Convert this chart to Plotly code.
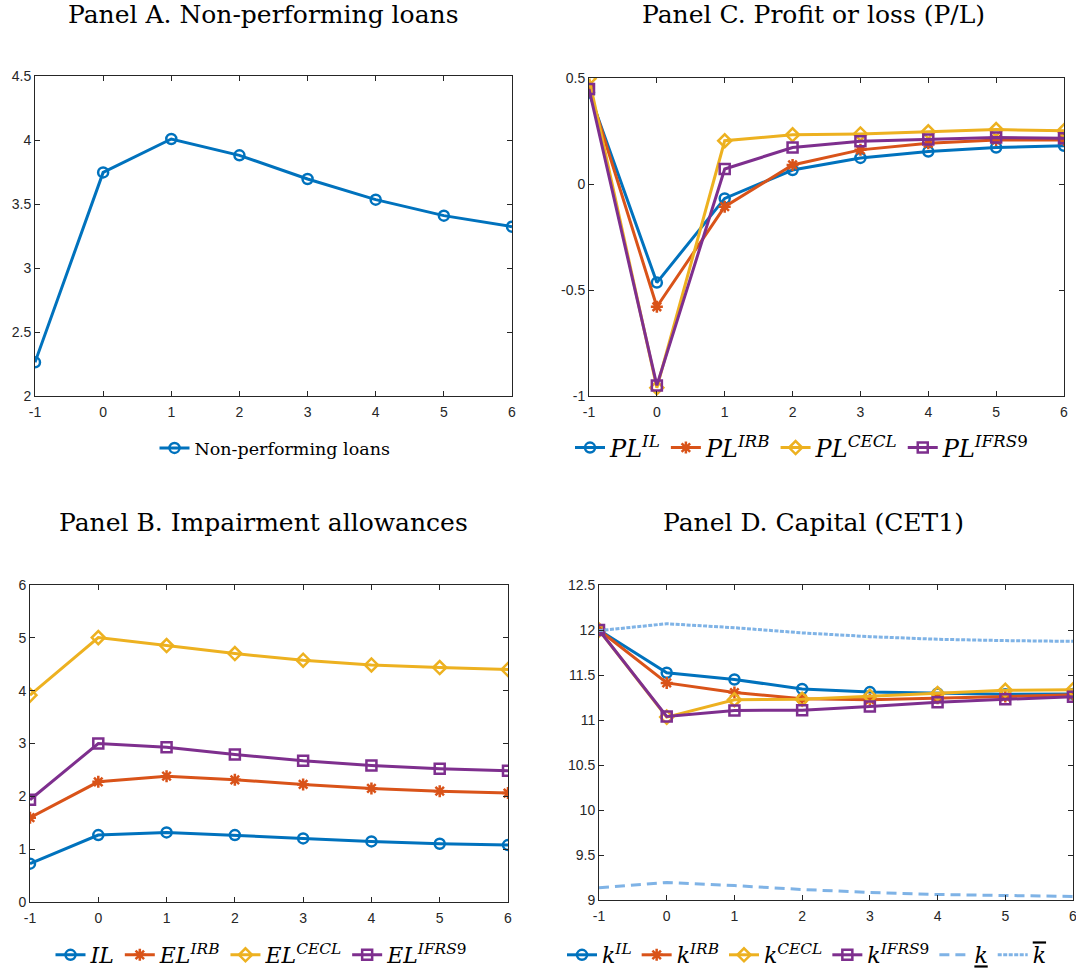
import plotly.graph_objects as go

# ---------------- data ----------------
periods = [-1, 0, 1, 2, 3, 4, 5, 6]
tick_vals_x = [-1, 0, 1, 2, 3, 4, 5, 6]
tick_text_x = ["-1", "0", "1", "2", "3", "4", "5", "6"]

# Panel A
npl = [2.263, 3.747, 4.008, 3.880, 3.695, 3.534, 3.409, 3.323]

# Panel B
il = [0.725, 1.267, 1.317, 1.267, 1.204, 1.147, 1.103, 1.078]
el_irb = [1.595, 2.275, 2.382, 2.313, 2.225, 2.149, 2.098, 2.061]
el_cecl = [3.914, 5.004, 4.853, 4.702, 4.576, 4.487, 4.437, 4.399]
el_ifrs9 = [1.935, 3.000, 2.931, 2.792, 2.672, 2.584, 2.521, 2.483]

# Panel C
pl_il = [0.432, -0.465, -0.068, 0.066, 0.123, 0.153, 0.172, 0.180]
pl_irb = [0.445, -0.579, -0.107, 0.090, 0.161, 0.192, 0.208, 0.208]
pl_cecl = [0.497, -0.961, 0.204, 0.232, 0.236, 0.246, 0.257, 0.251]
pl_ifrs9 = [0.448, -0.950, 0.071, 0.172, 0.202, 0.210, 0.219, 0.216]

# Panel D
k_il = [12.0, 11.525, 11.450, 11.345, 11.310, 11.295, 11.285, 11.290]
k_irb = [12.0, 11.412, 11.305, 11.235, 11.224, 11.242, 11.260, 11.280]
k_cecl = [12.0, 11.032, 11.225, 11.231, 11.265, 11.294, 11.330, 11.335]
k_ifrs9 = [12.0, 11.040, 11.106, 11.109, 11.150, 11.198, 11.230, 11.257]
k_low = [9.136, 9.195, 9.160, 9.117, 9.083, 9.061, 9.050, 9.040]
k_high = [11.993, 12.070, 12.025, 11.968, 11.926, 11.897, 11.882, 11.874]

yA_ticks = [2, 2.5, 3, 3.5, 4, 4.5]
yA_text = ["2", "2.5", "3", "3.5", "4", "4.5"]
yB_ticks = [0, 1, 2, 3, 4, 5, 6]
yB_text = ["0", "1", "2", "3", "4", "5", "6"]
yC_ticks = [-1, -0.5, 0, 0.5]
yC_text = ["-1", "-0.5", "0", "0.5"]
yD_ticks = [9, 9.5, 10, 10.5, 11, 11.5, 12, 12.5]
yD_text = ["9", "9.5", "10", "10.5", "11", "11.5", "12", "12.5"]

titles = ["Panel A. Non-performing loans", "Panel C. Profit or loss (P/L)",
          "Panel B. Impairment allowances", "Panel D. Capital (CET1)"]

# ---------------- style ----------------
BLUE = "#0072BD"
ORANGE = "#D95319"
YELLOW = "#EDB120"
PURPLE = "#7E2F8E"
LIGHT = "#7FB3E6"
AX = "#262626"
SERIF = "DejaVu Serif, Liberation Serif, serif"
SANS = "Liberation Sans, Arial, sans-serif"
W = 1076
H = 969


def mk(sym, col):
    return dict(symbol=sym, size=10, color=col, line=dict(width=2.5, color=col))


def ml(x, y, name, col, sym, xa, ya, leg):
    return go.Scatter(x=x, y=y, name=name, mode="lines+markers",
                      line=dict(color=col, width=3), marker=mk(sym, col),
                      xaxis=xa, yaxis=ya, legend=leg)


fig = go.Figure()

# Panel A
fig.add_trace(ml(periods, npl, "Non-performing loans", BLUE, "circle-open", "x", "y", "legend"))

# Panel C
fig.add_trace(ml(periods, pl_il, "<i>PL</i><sup><i>IL</i></sup>", BLUE, "circle-open", "x2", "y2", "legend2"))
fig.add_trace(ml(periods, pl_irb, "<i>PL</i><sup><i>IRB</i></sup>", ORANGE, "asterisk-open", "x2", "y2", "legend2"))
fig.add_trace(ml(periods, pl_cecl, "<i>PL</i><sup><i>CECL</i></sup>", YELLOW, "diamond-open", "x2", "y2", "legend2"))
fig.add_trace(ml(periods, pl_ifrs9, "<i>PL</i><sup><i>IFRS</i>9</sup>", PURPLE, "square-open", "x2", "y2", "legend2"))

# Panel B
fig.add_trace(ml(periods, il, "<i>IL</i>", BLUE, "circle-open", "x3", "y3", "legend3"))
fig.add_trace(ml(periods, el_irb, "<i>EL</i><sup><i>IRB</i></sup>", ORANGE, "asterisk-open", "x3", "y3", "legend3"))
fig.add_trace(ml(periods, el_cecl, "<i>EL</i><sup><i>CECL</i></sup>", YELLOW, "diamond-open", "x3", "y3", "legend3"))
fig.add_trace(ml(periods, el_ifrs9, "<i>EL</i><sup><i>IFRS</i>9</sup>", PURPLE, "square-open", "x3", "y3", "legend3"))

# Panel D
fig.add_trace(ml(periods, k_il, "<i>k</i><sup><i>IL</i></sup>", BLUE, "circle-open", "x4", "y4", "legend4"))
fig.add_trace(ml(periods, k_irb, "<i>k</i><sup><i>IRB</i></sup>", ORANGE, "asterisk-open", "x4", "y4", "legend4"))
fig.add_trace(ml(periods, k_cecl, "<i>k</i><sup><i>CECL</i></sup>", YELLOW, "diamond-open", "x4", "y4", "legend4"))
fig.add_trace(ml(periods, k_ifrs9, "<i>k</i><sup><i>IFRS</i>9</sup>", PURPLE, "square-open", "x4", "y4", "legend4"))
fig.add_trace(go.Scatter(x=periods, y=k_low, name="<u><i>k</i></u>", mode="lines",
                         line=dict(color=LIGHT, width=3, dash="10px,6px"),
                         xaxis="x4", yaxis="y4", legend="legend4"))
fig.add_trace(go.Scatter(x=periods, y=k_high, name="<span style='text-decoration:overline'><i>k</i></span>",
                         mode="lines", line=dict(color=LIGHT, width=3, dash="4px,1.5px"),
                         xaxis="x4", yaxis="y4", legend="legend4"))


def px_dom_x(a, b):
    return [a / W, b / W]


def px_dom_y(top, bottom):
    return [1 - bottom / H, 1 - top / H]


def xax(dom, anchor):
    return dict(domain=dom, anchor=anchor, range=[-1, 6], tickvals=tick_vals_x, ticktext=tick_text_x,
                showline=True, mirror="ticks", linecolor=AX, linewidth=1, ticks="inside", ticklen=5,
                tickcolor=AX, showgrid=False, zeroline=False, ticklabelstandoff=3, automargin=False,
                ticklabeloverflow="allow",
                tickfont=dict(family=SANS, size=14, color=AX))


def yax(dom, anchor, rng, tv, tt):
    return dict(domain=dom, anchor=anchor, range=rng, tickvals=tv, ticktext=tt,
                showline=True, mirror="ticks", linecolor=AX, linewidth=1, ticks="inside", ticklen=5,
                tickcolor=AX, showgrid=False, zeroline=False, automargin=False,
                ticklabeloverflow="allow",
                tickfont=dict(family=SANS, size=14, color=AX))


def leg(xc, yc, size):
    return dict(orientation="h", x=xc / W, y=1 - yc / H, xanchor="center", yanchor="middle",
                bgcolor="rgba(0,0,0,0)", font=dict(family=SERIF, size=size, color="black"),
                itemwidth=30, tracegroupgap=0)


fig.update_layout(
    template="none",
    width=W, height=H, margin=dict(l=0, r=0, t=0, b=0, pad=0, autoexpand=False),
    paper_bgcolor="white", plot_bgcolor="white",
    font=dict(family=SANS, color=AX),
    xaxis=xax(px_dom_x(35, 512), "y"),
    yaxis=yax(px_dom_y(76, 396), "x", [2, 4.5], yA_ticks, yA_text),
    xaxis2=xax(px_dom_x(589, 1064), "y2"),
    yaxis2=yax(px_dom_y(78, 396), "x2", [-1, 0.5], yC_ticks, yC_text),
    xaxis3=xax(px_dom_x(30, 508), "y3"),
    yaxis3=yax(px_dom_y(585, 902), "x3", [0, 6], yB_ticks, yB_text),
    xaxis4=xax(px_dom_x(599, 1073), "y4"),
    yaxis4=yax(px_dom_y(585, 900), "x4", [9, 12.5], yD_ticks, yD_text),
    legend=leg(275, 448, 17.5),
    legend2=leg(802, 448, 24),
    legend3=leg(262, 955, 22),
    legend4=leg(807, 955, 22),
    showlegend=True,
)

title_pos = [(263, 15), (813, 15), (263, 522), (813, 522)]
for t, (cx, cy) in zip(titles, title_pos):
    fig.add_annotation(text=t, x=cx / W, y=1 - cy / H, xref="paper", yref="paper",
                       xanchor="center", yanchor="middle", showarrow=False,
                       font=dict(family=SERIF, size=25, color="black"))

fig.write_html("out.html", config={"displayModeBar": False},
               post_script="document.body.style.margin='0';document.body.style.overflow='hidden';")
